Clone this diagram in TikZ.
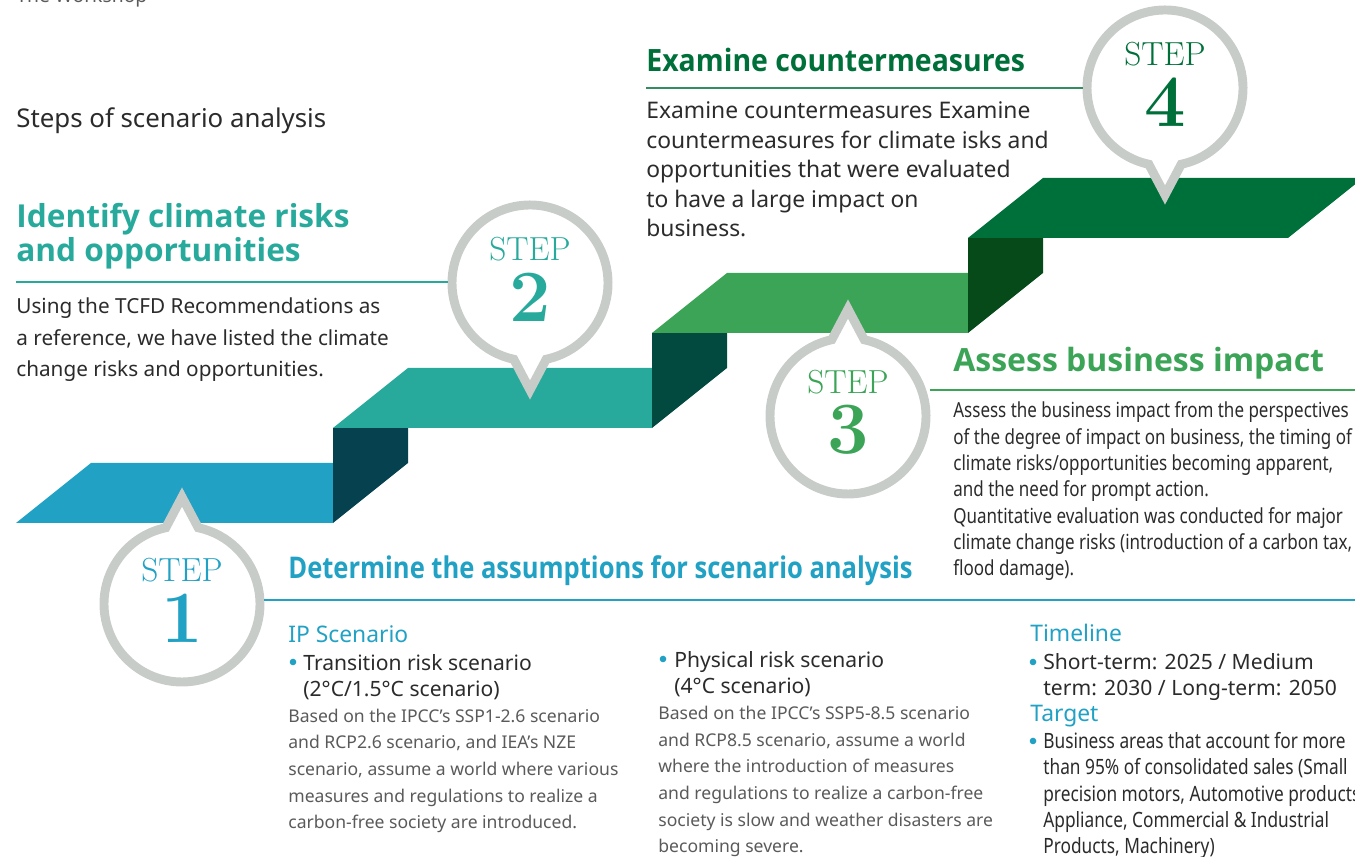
\documentclass[tikz,border=0pt]{standalone}
\usepackage{fontspec}
\newfontfamily\notosans{Noto Sans}
\newfontfamily\notonarrow[FakeStretch=0.82]{Noto Sans}
\IfFontExistsTF{Open Sans Bold}{%
  \newfontfamily\notobold{Open Sans Bold}%
  \newfontfamily\notoboldA[FakeStretch=0.925]{Open Sans Bold}%
  \newfontfamily\notoboldB[FakeStretch=0.855]{Open Sans Bold}%
}{%
  \newfontfamily\notobold[FakeBold=3.5,FakeStretch=1.09]{Noto Sans}%
  \newfontfamily\notoboldA[FakeBold=3.5,FakeStretch=1.0]{Noto Sans}%
  \newfontfamily\notoboldB[FakeBold=3.5,FakeStretch=0.925]{Noto Sans}%
}
\newfontfamily\stepfont{Latin Modern Roman}
\usetikzlibrary{calc}

\definecolor{stepblue}{HTML}{21A1C4}
\definecolor{stepteal}{HTML}{27AA9C}
\definecolor{stepgreen}{HTML}{3BA457}
\definecolor{stepdark}{HTML}{00703A}
\definecolor{riserblue}{HTML}{06414F}
\definecolor{riserteal}{HTML}{024A40}
\definecolor{risergreen}{HTML}{064A1A}
\definecolor{pingray}{HTML}{C8CCC8}
\definecolor{inkdark}{HTML}{2B2B2B}
\definecolor{inkgray}{HTML}{5A5A5A}

\tikzset{
  pin/.style={draw=pingray, fill=white, line width=5.1pt},
  rule/.style={line width=0.8pt},
  stepword/.style={font=\stepfont\fontsize{19}{20}\selectfont},
  stepnum/.style={font=\stepfont\bfseries\fontsize{42}{42}\selectfont},
  % anchored on the baseline of the last line
  txt/.style={anchor=base west, inner sep=0pt, align=left},
}

\begin{document}
\begin{tikzpicture}[x=0.02cm,y=0.02cm]
\clip (0,0) rectangle (1355,857);
%\draw[style=help lines] (0,0) grid[step=50] (1355,857);

% stairs, bottom to top
\fill[stepblue] (16,334) -- (91,394) -- (333,394) -- (333,334) -- cycle;
\fill[riserblue] (333,334) -- (333,429) -- (408,429) -- (408,394) -- cycle;
\fill[stepteal] (333,429) -- (408,489) -- (652,489) -- (652,429) -- cycle;
\fill[riserteal] (652,429) -- (652,524) -- (727,524) -- (727,489) -- cycle;
\fill[stepgreen] (652,524) -- (727,584) -- (968,584) -- (968,524) -- cycle;
\fill[risergreen] (968,524) -- (968,619) -- (1043,619) -- (1043,584) -- cycle;
\fill[stepdark] (968,619) -- (1043,679) -- (1363,679) -- (1288,619) -- cycle;

% pins
\coordinate (c1) at (182,253);
\coordinate (c2) at (530,574);
\coordinate (c3) at (848,441);
\coordinate (c4) at (1165,769);

\draw[pin] ($(c1)+(102:78)$) arc[start angle=102, end angle=438, radius=78] -- ($(c1)+(0,107)$) -- cycle;
\node[stepword, text=stepblue] (w1) at ($(c1)+(0,34)$) {STEP};
\node[stepnum, text=stepblue] (n1) at ($(c1)+(0,-14)$) {1};

\draw[pin] ($(c2)+(282:78)$) arc[start angle=282, end angle=618, radius=78] -- ($(c2)+(0,-107)$) -- cycle;
\node[stepword, text=stepteal] (w2) at ($(c2)+(0,34)$) {STEP};
\node[stepnum, text=stepteal] (n2) at ($(c2)+(0,-14)$) {2};

\draw[pin] ($(c3)+(102:78)$) arc[start angle=102, end angle=438, radius=78] -- ($(c3)+(0,107)$) -- cycle;
\node[stepword, text=stepgreen] (w3) at ($(c3)+(0,34)$) {STEP};
\node[stepnum, text=stepgreen] (n3) at ($(c3)+(0,-14)$) {3};

\draw[pin] ($(c4)+(282:78)$) arc[start angle=282, end angle=618, radius=78] -- ($(c4)+(0,-107)$) -- cycle;
\node[stepword, text=stepdark] (w4) at ($(c4)+(0,34)$) {STEP};
\node[stepnum, text=stepdark] (n4) at ($(c4)+(0,-14)$) {4};

% header
\node[txt, font=\notosans\fontsize{11}{13}\selectfont, text=inkgray] (ws) at (16,854) {The Workshop};
\node[txt, font=\notosans\fontsize{14.7}{17}\selectfont, text=inkdark] (title) at (16,729) {Steps of scenario analysis};

% step 2 text
\node[txt, font=\notobold\fontsize{18}{19.9}\selectfont, text=stepteal] (id1) at (16,595)
  {Identify climate risks\\and opportunities};
\coordinate (r2a) at (16,575);
\coordinate (r2b) at (448,575);
\draw[rule, stepteal] (r2a) -- (r2b);
\node[txt, font=\notosans\fontsize{11.8}{18.2}\selectfont, text=inkdark] (id2) at (16,480)
  {Using the TCFD Recommendations as\\a reference, we have listed the climate\\change risks and opportunities.};

% step 4 text
\node[txt, font=\notoboldA\fontsize{17.5}{19}\selectfont, text=stepdark] (ex1) at (646,785) {Examine countermeasures};
\coordinate (r4a) at (646,769);
\coordinate (r4b) at (1083,769);
\draw[rule, stepdark!80] (r4a) -- (r4b);
\node[txt, font=\notosans\fontsize{13}{16.8}\selectfont, text=inkdark] (ex2) at (646,620)
  {Examine countermeasures Examine\\countermeasures for climate isks and\\opportunities that were evaluated\\to have a large impact on\\business.};

% step 3 text
\node[txt, font=\notobold\fontsize{18.2}{19}\selectfont, text=stepgreen] (as1) at (953,485) {Assess business impact};
\coordinate (r3a) at (930,467);
\coordinate (r3b) at (1355,467);
\draw[rule, stepgreen] (r3a) -- (r3b);
\node[txt, font=\notonarrow\fontsize{11.8}{15}\selectfont, text=inkdark] (as2) at (953,281)
  {Assess the business impact from the perspectives\\of the degree of impact on business, the timing of\\climate risks/opportunities becoming apparent,\\and the need for prompt action.\\Quantitative evaluation was conducted for major\\climate change risks (introduction of a carbon tax,\\flood damage).};

% step 1 text
\node[txt, font=\notoboldB\fontsize{17}{19}\selectfont, text=stepblue] (de1) at (288,278) {Determine the assumptions for scenario analysis};
\coordinate (r1a) at (264,257);
\coordinate (r1b) at (1355,257);
\draw[rule, stepblue] (r1a) -- (r1b);

\node[txt, font=\notosans\fontsize{13}{15}\selectfont, text=stepblue] (ip1) at (288,214) {IP Scenario};
\fill[stepblue] (293,195) circle[radius=3.3];
\node[txt, font=\notosans\fontsize{12}{15.2}\selectfont, text=inkdark] (ip2) at (303,160)
  {Transition risk scenario\\(2°C/1.5°C scenario)};
\node[txt, font=\notosans\fontsize{10}{15.2}\selectfont, text=inkgray] (ip3) at (288,28)
  {Based on the IPCC’s SSP1-2.6 scenario\\and RCP2.6 scenario, and IEA’s NZE\\scenario, assume a world where various\\measures and regulations to realize a\\carbon-free society are introduced.};

\fill[stepblue] (663,198) circle[radius=3.3];
\node[txt, font=\notosans\fontsize{12}{15.2}\selectfont, text=inkdark] (ph1) at (674,163)
  {Physical risk scenario\\(4°C scenario)};
\node[txt, font=\notosans\fontsize{10}{15.2}\selectfont, text=inkgray] (ph2) at (658,4)
  {Based on the IPCC’s SSP5-8.5 scenario\\and RCP8.5 scenario, assume a world\\where the introduction of measures\\and regulations to realize a carbon-free\\society is slow and weather disasters are\\becoming severe.};

\node[txt, font=\notosans\fontsize{13}{15}\selectfont, text=stepblue] (tl1) at (1030,215) {Timeline};
\fill[stepblue] (1033,195) circle[radius=3.3];
\node[txt, font=\notosans\fontsize{12}{14.8}\selectfont, text=inkdark] (tl2) at (1043,161)
  {Short-term: 2025 / Medium\\term: 2030 / Long-term: 2050};
\node[txt, font=\notosans\fontsize{13}{15}\selectfont, text=stepblue] (tg1) at (1030,135) {Target};
\fill[stepblue] (1033,116) circle[radius=3.3];
\node[txt, font=\notonarrow\fontsize{12}{15}\selectfont, text=inkdark] (tg2) at (1043,3)
  {Business areas that account for more\\than 95\% of consolidated sales (Small\\precision motors, Automotive products\\Appliance, Commercial \& Industrial\\Products, Machinery)};

\end{tikzpicture}
\end{document}
